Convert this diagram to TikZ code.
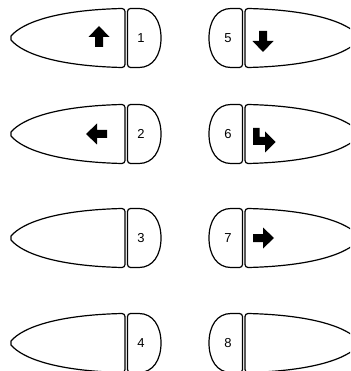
\documentclass[tikz,border=0pt]{standalone}
\usepackage{fontspec}
\setmainfont{Liberation Sans}
\begin{document}
\begin{tikzpicture}[x=1pt,y=-1pt,line width=1.2pt,line join=round,font=\fontsize{13}{15}\selectfont,
  arr/.style={fill=black,draw=none},
  num/.style={inner sep=0pt}]
\useasboundingbox (0,0) rectangle (350,371);
\clip (0,0) rectangle (350,371);
% left column: body + cap
\foreach \y/\n in {38/1,134/2,238/3,343/4}{
  \begin{scope}[shift={(0,\y)}]
  \draw (11,-2) .. controls (23,-16) and (58,-28) .. (122,-29.5) to[out=0,in=90] (125,-26.5) -- (125,26.5) to[out=-90,in=0] (122,29.5) .. controls (58,28) and (23,16) .. (11,2) -- cycle;
  \draw (127.5,-26.5) to[out=90,in=180] (130.5,-29.5) -- (139,-29.5) .. controls (153,-29.5) and (161,-17) .. (161,0) .. controls (161,17) and (153,29.5) .. (139,29.5) -- (130.5,29.5) to[out=180,in=-90] (127.5,26.5) -- cycle;
  \node[num] (n\n) at (141,0) {\n};
  \end{scope}}
% right column, mirrored
\foreach \y/\n in {38/5,134/6,238/7,343/8}{
  \begin{scope}[shift={(370,\y)},xscale=-1]
  \draw (11,-2) .. controls (23,-16) and (58,-28) .. (122,-29.5) to[out=0,in=90] (125,-26.5) -- (125,26.5) to[out=-90,in=0] (122,29.5) .. controls (58,28) and (23,16) .. (11,2) -- cycle;
  \draw (127.5,-26.5) to[out=90,in=180] (130.5,-29.5) -- (139,-29.5) .. controls (153,-29.5) and (161,-17) .. (161,0) .. controls (161,17) and (153,29.5) .. (139,29.5) -- (130.5,29.5) to[out=180,in=-90] (127.5,26.5) -- cycle;
  \node[num] (n\n) at (142,0) {\n};
  \end{scope}}
% arrows
\fill[arr,shift={(99,37)}] (0,-11) -- (10.5,0) -- (4,0) -- (4,10) -- (-4,10) -- (-4,0) -- (-10.5,0) -- cycle;
\fill[arr,shift={(97,134)},rotate=90] (0,-11) -- (10.5,0) -- (4,0) -- (4,10) -- (-4,10) -- (-4,0) -- (-10.5,0) -- cycle;
\fill[arr,shift={(263,41)},rotate=180] (0,-11) -- (10.5,0) -- (4,0) -- (4,10) -- (-4,10) -- (-4,0) -- (-10.5,0) -- cycle;
\fill[arr,shift={(263,238)},rotate=-90] (0,-11) -- (10.5,0) -- (4,0) -- (4,10) -- (-4,10) -- (-4,0) -- (-10.5,0) -- cycle;
\fill[arr,shift={(264,140)}] (-11,-12) -- (-4.5,-12) -- (-4.5,-3) -- (1,-3) -- (1,-8.5) -- (11.5,2) -- (1,12.5) -- (1,5) -- (-11,5) -- cycle;
\end{tikzpicture}
\end{document}
